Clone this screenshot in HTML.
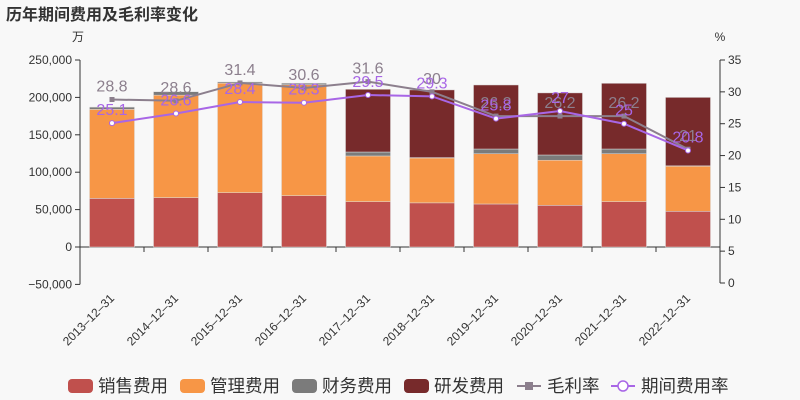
<!DOCTYPE html>
<html><head><meta charset="utf-8"><style>
body{margin:0;background:#f8f8f8;}
svg{display:block;font-family:"Liberation Sans","Noto Sans CJK SC",sans-serif;}
</style></head><body>
<svg id="c" width="800" height="400">
<text x="6" y="20" font-size="16" font-weight="bold" fill="#333">历年期间费用及毛利率变化</text>
<text x="78" y="41" font-size="12" fill="#333" text-anchor="middle">万</text>
<text x="720" y="41" font-size="12" fill="#333" text-anchor="middle">%</text>
<g id="axes"></g><g id="bars"></g><g id="lines"></g><g id="legend"></g>
</svg>
<script>
const categories=["2013-12-31","2014-12-31","2015-12-31","2016-12-31","2017-12-31","2018-12-31","2019-12-31","2020-12-31","2021-12-31","2022-12-31"];
const sales=[65000,66000,72600,68600,60600,59000,57500,55700,60600,47700];
const mgmt=[119000,137000,146400,148400,61100,60000,67200,60300,64100,60300];
const fin=[3000,4600,1600,2000,5300,500,6300,7000,6300,500];
const rd=[0,0,0,0,83800,90500,85600,83000,87800,91500];
const gross=[28.8,28.6,31.4,30.6,31.6,30,26.2,26.2,26.2,21];
const period=[25.1,26.6,28.4,28.3,29.5,29.3,25.8,27,25,20.8];
const leftTicks=[-50000,0,50000,100000,150000,200000,250000];
const rightTicks=[0,5,10,15,20,25,30,35];
const NS="http://www.w3.org/2000/svg";
const X0=80,X1=720,bw=64;
const yL=v=>247-v*0.000748;
const yR=v=>283-v*(223/35);
const xC=i=>X0+bw*(i+0.5);
function el(tag,attrs,parent,txt){const e=document.createElementNS(NS,tag);for(const k in attrs)e.setAttribute(k,attrs[k]);if(txt!==undefined)e.textContent=txt;parent.appendChild(e);return e;}
const axes=document.getElementById('axes');
let a=el('line',{x1:X0,y1:yL(250000),x2:X0,y2:yL(-50000),stroke:'#333'},axes);


a=el('line',{x1:X1,y1:yR(35),x2:X1,y2:yR(0),stroke:'#333'},axes);


a=el('line',{x1:X0,y1:yL(0),x2:X1,y2:yL(0),stroke:'#333'},axes);


leftTicks.forEach(v=>{
 el('line',{x1:X0-5,y1:yL(v),x2:X0,y2:yL(v),stroke:'#333'},axes);
 const t=el('text',{x:X0-8,y:yL(v)+4,'font-size':12,fill:'#333','text-anchor':'end'},axes,v.toLocaleString('en-US').replace('-','−'));
 
 
});
rightTicks.forEach(v=>{
 el('line',{x1:X1,y1:yR(v),x2:X1+5,y2:yR(v),stroke:'#333'},axes);
 const t=el('text',{x:X1+8,y:yR(v)+4,'font-size':12,fill:'#333'},axes,v);
 
 
});
categories.forEach((c,i)=>{
 el('line',{x1:X0+bw*(i+1),y1:yL(0),x2:X0+bw*(i+1),y2:yL(0)+5,stroke:'#333'},axes);
 const t=el('text',{x:0,y:0,'font-size':12,fill:'#333','text-anchor':'end',transform:`translate(${xC(i)+3},${yL(0)+52}) rotate(-45)`},axes,c.replace(/-/g,'–'));
 
 
});
const bars=document.getElementById('bars');
const series=[[sales,'#c0504d','sales'],[mgmt,'#f79646','mgmt'],[fin,'#7b7b7b','fin'],[rd,'#772a2b','rd']];
categories.forEach((c,i)=>{
 let base=0;
 series.forEach(([arr,col,nm])=>{
  const v=arr[i]; if(v<=0)return;
  const r=el('rect',{x:xC(i)-22.5,y:yL(base+v),width:45,height:yL(base)-yL(base+v),fill:col,stroke:'#ddd','stroke-width':0.5},bars);
  
  
  base+=v;
 });
});
const lines=document.getElementById('lines');
function drawLine(arr,col,nm,circle){
 const p=el('polyline',{points:arr.map((v,i)=>xC(i)+','+yR(v)).join(' '),fill:'none',stroke:col,'stroke-width':2},lines);
 
 
 arr.forEach((v,i)=>{
  let m;
  if(circle)m=el('circle',{cx:xC(i),cy:yR(v),r:2.5,fill:'#fff',stroke:col},lines);
  else m=el('rect',{x:xC(i)-2.5,y:yR(v)-2.5,width:5,height:5,fill:col},lines);
  
  
  const t=el('text',{x:xC(i),y:yR(v)-8,'font-size':16,fill:col,'text-anchor':'middle'},lines,v);
  
  
 });
}
drawLine(gross,'#8c7f8d','gross-margin',false);
drawLine(period,'#a866e6','period-expense-rate',true);
const lg=document.getElementById('legend');
const items=[['销售费用','#c0504d',68,'b'],['管理费用','#f79646',180,'b'],['财务费用','#7b7b7b',292,'b'],['研发费用','#772a2b',404,'b'],['毛利率','#8c7f8d',517,'s'],['期间费用率','#a866e6',611,'c']];
items.forEach(([n,col,x,type])=>{
 const g=el('g',{},lg);
 
 
 if(type==='b')el('rect',{x:x,y:379,width:25,height:14,rx:4,fill:col},g);
 else{el('line',{x1:x,y1:386,x2:x+24,y2:386,stroke:col,'stroke-width':2},g);
  if(type==='s')el('rect',{x:x+8,y:382,width:8,height:8,fill:col},g);
  else el('circle',{cx:x+12,cy:386,r:5,fill:'#fff',stroke:col,'stroke-width':1.5},g);}
 el('text',{x:x+30,y:392,'font-size':17.5,fill:'#333'},g,n);
});
</script>
</body></html>
